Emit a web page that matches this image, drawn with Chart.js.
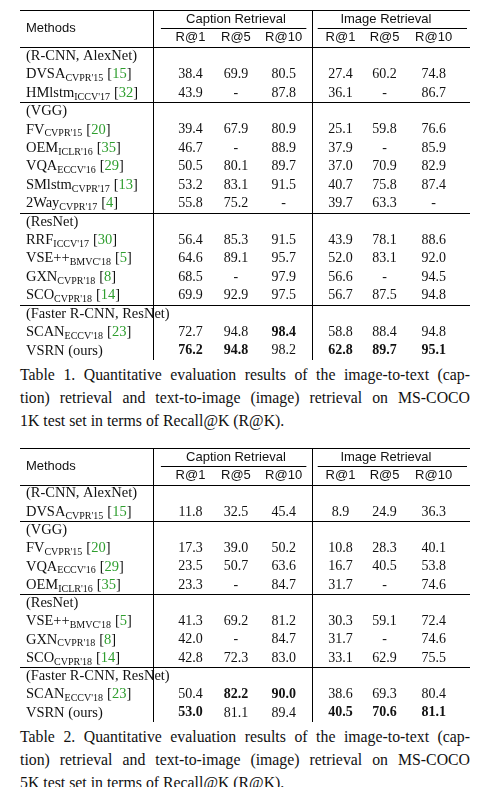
<!DOCTYPE html>
<html><head><meta charset="utf-8">
<script src="https://cdn.jsdelivr.net/npm/chart.js@4"></script>
<style>
body{margin:0;background:#fff;width:484px;height:787px;position:relative;overflow:hidden}
.c{position:absolute;left:0;width:484px}
.cap{position:absolute;left:20px;width:450px;font-family:"Liberation Serif",serif;font-size:15.8px;line-height:22.8px;color:#111}
.cap div{text-align:justify;text-align-last:justify;white-space:nowrap}
.cap div.l{text-align-last:left}
</style></head><body>
<div class="c" style="top:10px;height:350px"><canvas id="t1"></canvas></div>
<div class="cap" style="top:364px"><div>Table 1. Quantitative evaluation results of the image-to-text (cap-</div><div>tion) retrieval and text-to-image (image) retrieval on MS-COCO</div><div class="l">1K test set in terms of Recall@K (R@K).</div></div>
<div class="c" style="top:448px;height:274px"><canvas id="t2"></canvas></div>
<div class="cap" style="top:726px"><div>Table 2. Quantitative evaluation results of the image-to-text (cap-</div><div>tion) retrieval and text-to-image (image) retrieval on MS-COCO</div><div class="l">5K test set in terms of Recall@K (R@K).</div></div>
<script>
const groupTitles=['Caption Retrieval','Image Retrieval'];
const colTitles=['R@1','R@5','R@10','R@1','R@5','R@10'];
const colPos=[0,1,2.05,3.3,4.27,5.35];
// Table 1
const t1Groups=['(R-CNN, AlexNet)','(VGG)','(ResNet)','(Faster R-CNN, ResNet)'];
const t1GroupSizes=[2,5,4,2];
const t1Names=['DVSA','HMlstm','FV','OEM','VQA','SMlstm','2Way','RRF','VSE++','GXN','SCO','SCAN','VSRN'];
const t1Venues=["CVPR'15","ICCV'17","CVPR'15","ICLR'16","ECCV'16","CVPR'17","CVPR'17","ICCV'17","BMVC'18","CVPR'18","CVPR'18","ECCV'18",""];
const t1Refs=['15','32','20','35','29','13','4','30','5','8','14','23',''];
const t1Values=[
[38.4,69.9,80.5,27.4,60.2,74.8],
[43.9,null,87.8,36.1,null,86.7],
[39.4,67.9,80.9,25.1,59.8,76.6],
[46.7,null,88.9,37.9,null,85.9],
[50.5,80.1,89.7,37.0,70.9,82.9],
[53.2,83.1,91.5,40.7,75.8,87.4],
[55.8,75.2,null,39.7,63.3,null],
[56.4,85.3,91.5,43.9,78.1,88.6],
[64.6,89.1,95.7,52.0,83.1,92.0],
[68.5,null,97.9,56.6,null,94.5],
[69.9,92.9,97.5,56.7,87.5,94.8],
[72.7,94.8,98.4,58.8,88.4,94.8],
[76.2,94.8,98.2,62.8,89.7,95.1]];
const t1Bold=[[],[],[],[],[],[],[],[],[],[],[],[2],[0,1,3,4,5]];
// Table 2
const t2Groups=['(R-CNN, AlexNet)','(VGG)','(ResNet)','(Faster R-CNN, ResNet)'];
const t2GroupSizes=[1,3,3,2];
const t2Names=['DVSA','FV','VQA','OEM','VSE++','GXN','SCO','SCAN','VSRN'];
const t2Venues=["CVPR'15","CVPR'15","ECCV'16","ICLR'16","BMVC'18","CVPR'18","CVPR'18","ECCV'18",""];
const t2Refs=['15','20','29','35','5','8','14','23',''];
const t2Values=[
[11.8,32.5,45.4,8.9,24.9,36.3],
[17.3,39.0,50.2,10.8,28.3,40.1],
[23.5,50.7,63.6,16.7,40.5,53.8],
[23.3,null,84.7,31.7,null,74.6],
[41.3,69.2,81.2,30.3,59.1,72.4],
[42.0,null,84.7,31.7,null,74.6],
[42.8,72.3,83.0,33.1,62.9,75.5],
[50.4,82.2,90.0,38.6,69.3,80.4],
[53.0,81.1,89.4,40.5,70.6,81.1]];
const t2Bold=[[],[],[],[],[],[],[],[1,2],[0,3,4,5]];

const SERIF='"Liberation Serif", serif', SANS='"Liberation Sans", sans-serif';
function build(id,groups,sizes,names,venues,refs,values,bold){
  const rows=[];let r=2,m=0;const groupRows=[],sepRows=[];
  groups.forEach((g,gi)=>{groupRows.push({r,t:g});sepRows.push(r-0.5);r++;
    for(let k=0;k<sizes[gi];k++){rows.push({r,m});r++;m++;}});
  const nRows=r;
  const datasets=rows.map(o=>({data:values[o.m].map((v,j)=>({x:colPos[j],y:o.r,v,b:bold[o.m].includes(j)})),pointRadius:0,pointHoverRadius:0,m:o.m}));
  const plugin={id:'tbl',afterDraw(ch){
    const c=ch.ctx,X=ch.scales.x,Y=ch.scales.y;
    const L=ch.chartArea.left,R=ch.chartArea.right;
    c.save();c.strokeStyle='#000';c.lineWidth=1;
    const hl=(yv,x0,x1)=>{const y=Math.round(Y.getPixelForValue(yv))+0.5;c.beginPath();c.moveTo(x0,y);c.lineTo(x1,y);c.stroke();};
    hl(-0.5,L,R);hl(1.5,L,R);sepRows.slice(1).forEach(s=>hl(s,L,R));hl(nRows-0.5,L,R);
    hl(0.5,X.getPixelForValue(-0.65),X.getPixelForValue(2.55));
    hl(0.5,X.getPixelForValue(2.8),R-3);
    [-0.83,2.68].forEach(xv=>{const x=Math.round(X.getPixelForValue(xv))+0.5;c.beginPath();c.moveTo(x,Y.getPixelForValue(-0.5));c.lineTo(x,Y.getPixelForValue(nRows-0.5));c.stroke();});
    c.fillStyle='#111';c.textBaseline='middle';
    c.font='13px '+SANS;c.textAlign='left';
    c.fillText('Methods',X.getPixelForValue(-3.62),Y.getPixelForValue(0.5));
    c.textAlign='center';
    c.fillText(groupTitles[0],X.getPixelForValue(1),Y.getPixelForValue(0));
    c.fillText(groupTitles[1],X.getPixelForValue(4.3),Y.getPixelForValue(0));
    colTitles.forEach((t,j)=>c.fillText(t,X.getPixelForValue(colPos[j]),Y.getPixelForValue(1)));
    c.textAlign='left';c.font='14.5px '+SERIF;
    groupRows.forEach(g=>c.fillText(g.t,X.getPixelForValue(-3.62),Y.getPixelForValue(g.r)));
    ch.data.datasets.forEach((ds,di)=>{
      const meta=ch.getDatasetMeta(di);
      const y=meta.data[0].y;let x=X.getPixelForValue(-3.62);
      c.textAlign='left';c.fillStyle='#111';c.font='14.5px '+SERIF;
      c.fillText(names[ds.m],x,y);x+=c.measureText(names[ds.m]).width;
      if(venues[ds.m]){c.font='10px '+SERIF;c.fillText(venues[ds.m],x,y+4);x+=c.measureText(venues[ds.m]).width+4;
        c.font='14.5px '+SERIF;c.fillText('[',x,y);x+=c.measureText('[').width;
        c.fillStyle='#2e9e2e';c.fillText(refs[ds.m],x,y);x+=c.measureText(refs[ds.m]).width;
        c.fillStyle='#111';c.fillText(']',x,y);}
      else{c.fillText(' (ours)',x,y);}
      c.textAlign='center';
      meta.data.forEach((el,j)=>{const p=ds.data[j];
        c.font=(p.b?'bold ':'')+'14px '+SERIF;
        c.fillText(p.v==null?'-':p.v.toFixed(1),el.x,el.y);});
    });
    c.restore();}};
  new Chart(document.getElementById(id),{type:'scatter',data:{datasets},plugins:[plugin],
    options:{responsive:true,maintainAspectRatio:false,animation:false,events:[],
      layout:{padding:{left:20,right:14,top:0,bottom:0}},
      plugins:{legend:{display:false},tooltip:{enabled:false}},
      scales:{x:{type:'linear',display:false,min:-3.75,max:6.15},
              y:{type:'linear',display:false,reverse:true,min:-0.5,max:nRows-0.5}}}});
}
build('t1',t1Groups,t1GroupSizes,t1Names,t1Venues,t1Refs,t1Values,t1Bold);
build('t2',t2Groups,t2GroupSizes,t2Names,t2Venues,t2Refs,t2Values,t2Bold);
</script></body></html>
